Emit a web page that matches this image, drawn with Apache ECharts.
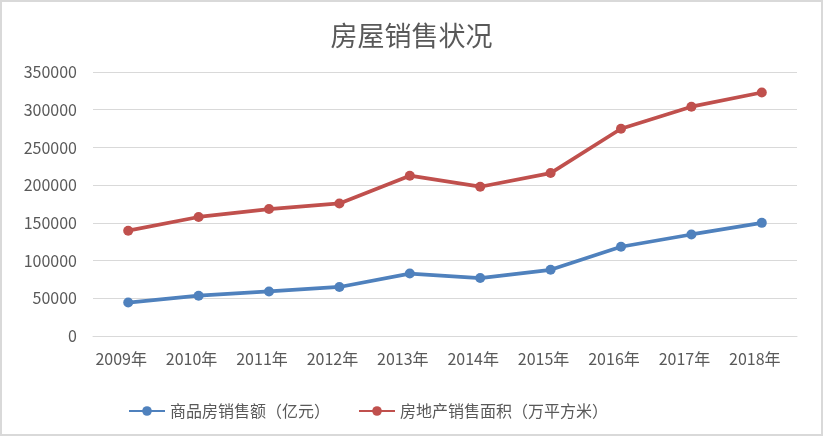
<!DOCTYPE html>
<html>
<head>
<meta charset="utf-8">
<script src="https://cdn.jsdelivr.net/npm/echarts@6/dist/echarts.min.js"></script>
<style>
html,body{margin:0;padding:0;background:#fff;}
#box{width:823px;height:436px;box-sizing:border-box;border:2px solid #d9d9d9;}
#chart{width:819px;height:432px;}
</style>
</head>
<body>
<div id="box"><div id="chart"></div></div>
<script>
const titleText = '房屋销售状况';
const categories = ['2009年','2010年','2011年','2012年','2013年','2014年','2015年','2016年','2017年','2018年'];
const salesAmount = [44400, 53400, 59100, 65000, 82800, 76800, 87800, 118300, 134600, 150000];
const salesArea = [139600, 157800, 168300, 175700, 212500, 197900, 216000, 274800, 304000, 322800];
const seriesNames = ['商品房销售额（亿元）', '房地产销售面积（万平方米）'];
const yMin = 0, yMax = 350000, yStep = 50000;

const font = '"Noto Sans CJK SC", "Noto Sans", sans-serif';
const chart = echarts.init(document.getElementById('chart'), null, {renderer: 'canvas'});
chart.setOption({
  animation: false,
  title: {
    text: titleText, left: 'center', top: 15,
    textStyle: {fontFamily: font, fontSize: 27, fontWeight: 'normal', color: '#595959'}
  },
  legend: {
    left: 121, top: 396,
    itemWidth: 36, itemHeight: 12, itemGap: 28,
    textStyle: {fontFamily: font, fontSize: 16, color: '#595959'},
    data: seriesNames
  },
  grid: {left: 91, right: 24, top: 70, bottom: 98},
  xAxis: {
    type: 'category', data: categories, boundaryGap: true,
    axisLine: {lineStyle: {color: '#d9d9d9', width: 1}},
    axisTick: {show: false},
    axisLabel: {fontFamily: font, fontSize: 16, color: '#595959', margin: 15, padding: [0, 14, 0, 0], interval: 0}
  },
  yAxis: {
    type: 'value', min: yMin, max: yMax, interval: yStep,
    axisLine: {show: false}, axisTick: {show: false},
    splitLine: {lineStyle: {color: '#d9d9d9', width: 1}},
    axisLabel: {fontFamily: font, fontSize: 16, color: '#595959', margin: 16, formatter: v => String(v)}
  },
  series: [
    {
      name: seriesNames[0], type: 'line', data: salesAmount,
      symbol: 'circle', symbolSize: 10,
      lineStyle: {color: '#4f81bd', width: 3.75},
      itemStyle: {color: '#4f81bd'}
    },
    {
      name: seriesNames[1], type: 'line', data: salesArea,
      symbol: 'circle', symbolSize: 10,
      lineStyle: {color: '#c0504d', width: 3.75},
      itemStyle: {color: '#c0504d'}
    }
  ]
});
</script>
</body>
</html>
